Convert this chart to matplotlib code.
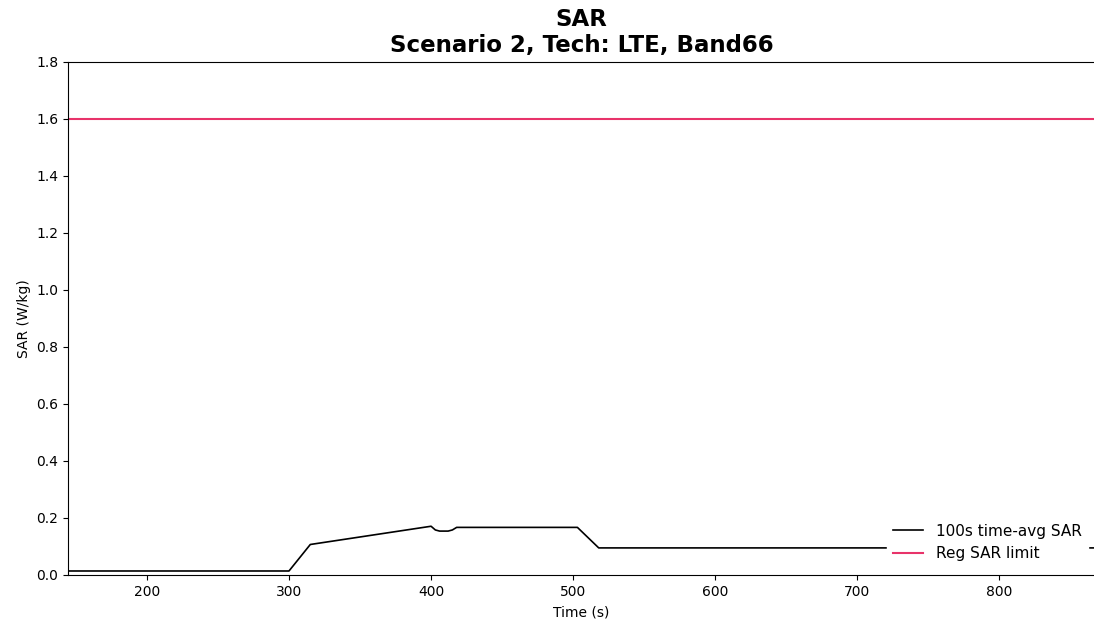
import matplotlib
matplotlib.use('Agg')
import matplotlib.pyplot as plt

# 100s time-averaged SAR trace
time_s = [144, 300, 315, 400, 403, 406, 412, 415, 418, 503, 518, 900]
sar_avg = [0.014, 0.014, 0.107, 0.171, 0.158, 0.154, 0.154, 0.158, 0.167, 0.167, 0.095, 0.095]

# regulatory limit
limit_x = [144, 900]
limit_y = [1.6, 1.6]

fig = plt.figure(figsize=(10.94, 6.26), dpi=100)
ax = fig.add_axes([0.0622, 0.0815, 0.939, 0.8195])

ax.plot(time_s, sar_avg, color='black', linewidth=1.2, label='100s time-avg SAR')
ax.plot(limit_x, limit_y, color='#e8336a', linewidth=1.5, label='Reg SAR limit')

ax.set_xlim(144.5, 867.5)
ax.set_ylim(0, 1.8)
ax.set_yticks([0.0, 0.2, 0.4, 0.6, 0.8, 1.0, 1.2, 1.4, 1.6, 1.8])
ax.set_xticks([200, 300, 400, 500, 600, 700, 800])

ax.set_xlabel('Time (s)', labelpad=5)
ax.set_ylabel('SAR (W/kg)')
ax.set_title('SAR\nScenario 2, Tech: LTE, Band66', fontsize=16.5, fontweight='bold', pad=7)
ax.legend(loc='lower right', fontsize=11, edgecolor='white', framealpha=1)

fig.savefig('out.png', dpi=100)
